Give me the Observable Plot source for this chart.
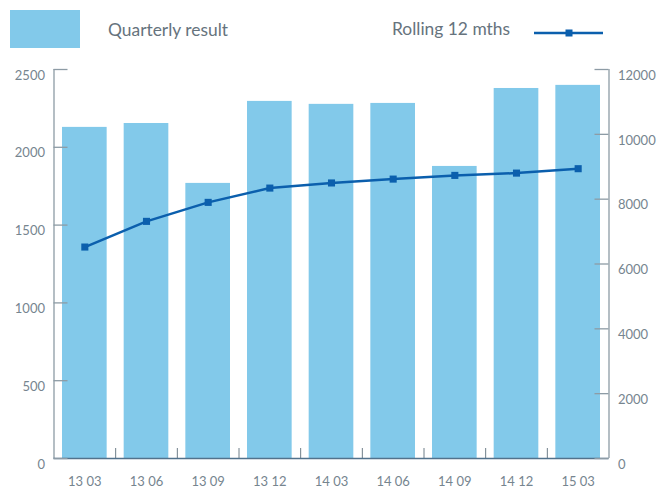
<!DOCTYPE html>
<html>
<head>
<meta charset="utf-8">
<script src="https://cdn.jsdelivr.net/npm/d3@7"></script>
<script src="https://cdn.jsdelivr.net/npm/@observablehq/plot@0.6"></script>
<style>
  html, body { margin: 0; padding: 0; background: #fff; }
  #wrap { position: relative; width: 659px; height: 488px; font-family: Lato, "Open Sans", sans-serif; }
  #chart { position: absolute; left: 0; top: 0; }
  .lg { position: absolute; color: #66737d; font-size: 17.4px; line-height: 20px; }
</style>
</head>
<body>
<div id="wrap">
  <div id="chart"></div>
  <div style="position:absolute;left:10px;top:10px;width:70px;height:38px;background:#82c9ea"></div>
  <div class="lg" style="left:108px;top:20px">Quarterly result</div>
  <div class="lg" style="left:392px;top:19px">Rolling 12 mths</div>
  <svg style="position:absolute;left:530px;top:25px" width="80" height="16">
    <line x1="4" x2="73" y1="8" y2="8" stroke="#0b5fad" stroke-width="2.5"></line>
    <rect x="35.5" y="4.5" width="7" height="7" fill="#0b5fad"></rect>
  </svg>
</div>
<script>
const quarters = ["13 03", "13 06", "13 09", "13 12", "14 03", "14 06", "14 09", "14 12", "15 03"];
const quarterly = [2128, 2153, 1768, 2295, 2276, 2282, 1877, 2378, 2398];
const rolling = [6523, 7315, 7901, 8342, 8500, 8619, 8733, 8804, 8940];
const leftTicks = [0, 500, 1000, 1500, 2000, 2500];
const rightTicks = [0, 2000, 4000, 6000, 8000, 10000, 12000];

const leftMax = 2500, rightMax = 12000;
const k = leftMax / rightMax;

const bars = quarters.map((q, i) => ({q, v: quarterly[i]}));
const line = quarters.map((q, i) => ({q, v: rolling[i] * k}));

const W = 659, H = 488, mL = 53.5, mR = 50.5, mT = 69, mB = 30;
const frameW = W - mL - mR, frameH = H - mT - mB;
const step = frameW / quarters.length;
const tickLen = 14;
const gray = "#8d9ba5";

const chart = Plot.plot({
  width: W, height: H,
  marginLeft: mL, marginRight: mR, marginTop: mT, marginBottom: mB,
  style: {fontFamily: "Lato, 'Open Sans', sans-serif", fontSize: "13px", color: "#76858f", background: "transparent"},
  x: {type: "band", domain: quarters, paddingInner: 0.276, paddingOuter: 0.138, round: false, label: null},
  y: {domain: [0, leftMax], label: null},
  marks: [
    Plot.barY(bars, {x: "q", y: "v", fill: "#82c9ea"}),
    // vertical axis lines
    Plot.ruleX([quarters[0]], {x: d => d, dx: -step / 2, stroke: gray, strokeWidth: 1.3}),
    Plot.ruleX([quarters[quarters.length - 1]], {x: d => d, dx: step / 2, stroke: gray, strokeWidth: 1.3}),
    // category boundary ticks
    Plot.ruleX(quarters.slice(1), {x: d => d, dx: -step / 2, insetTop: frameH - 10, stroke: "#6e7e89", strokeWidth: 1}),
    // baseline
    Plot.ruleY([0], {stroke: "#52728c", strokeWidth: 1.5}),
    // inward ticks
    Plot.ruleY(leftTicks, {y: d => d, insetRight: frameW - tickLen, stroke: gray, strokeWidth: 1.3}),
    Plot.ruleY(rightTicks, {y: d => d * k, insetLeft: frameW - tickLen, stroke: gray, strokeWidth: 1.3}),
    // rolling 12 months
    Plot.line(line, {x: "q", y: "v", stroke: "#0b5fad", strokeWidth: 2.5}),
    Plot.dot(line, {x: "q", y: "v", symbol: "square", r: 4, fill: "#0b5fad"}),
    // axes
    Plot.axisY(leftTicks, {anchor: "left", label: null, tickSize: 0, tickPadding: 9, dy: 6, tickFormat: d => String(d)}),
    Plot.axisY(rightTicks.map(t => t * k), {anchor: "right", label: null, tickSize: 0, tickPadding: 9, dy: 6, tickFormat: d => String(Math.round(d / k))}),
    Plot.axisX({anchor: "bottom", label: null, tickSize: 0, tickPadding: 18})
  ]
});
document.getElementById("chart").appendChild(chart);
</script>
</body>
</html>
